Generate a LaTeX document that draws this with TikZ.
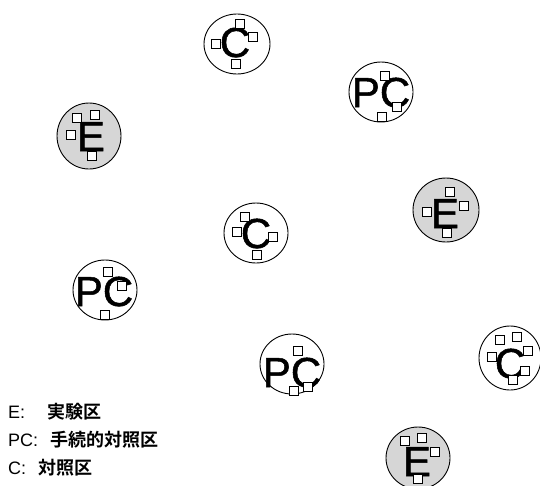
\documentclass[tikz,border=0pt]{standalone}
\usepackage{fontspec}
\setmainfont{Liberation Sans}
\newfontfamily\bigfont{Liberation Sans}[FakeBold=1.2]
\newfontfamily\jfont{Noto Sans CJK JP}[BoldFont={* Bold}]
\usetikzlibrary{shapes.geometric}
\tikzset{
  plot/.style={draw=black, line width=0.9pt, ellipse, inner sep=0pt, fill=white},
  eplot/.style={plot, fill=black!16},
  big/.style={font=\bigfont\fontsize{42}{42}\selectfont, inner sep=0pt, anchor=base},
  sq/.style={draw=black, line width=0.7pt, fill=white, minimum width=9.5pt, minimum height=8.5pt, inner sep=0pt},
  legend/.style={font=\fontsize{18}{18}\selectfont, inner sep=0pt, anchor=base west}
}
\begin{document}
\begin{tikzpicture}[x=1pt,y=-1pt]
\useasboundingbox (0,0) rectangle (540,485);
% 1 C
\node[plot, minimum width=66pt, minimum height=60pt] (c1) at (237,44) {};
\node[big] (l1) at (235,57) {C};
\node[sq] (s1a) at (240,24) {};
\node[sq] (s1b) at (253,37) {};
\node[sq] (s1c) at (216,44) {};
\node[sq] (s1d) at (236,64) {};
% 2 PC
\node[plot, minimum width=64pt, minimum height=60pt] (c2) at (381,92) {};
\node[big] (l2) at (381,107) {PC};
\node[sq] (s2a) at (385,76) {};
\node[sq] (s2b) at (397,107) {};
\node[sq] (s2c) at (382,117) {};
% 3 E
\node[eplot, minimum width=64pt, minimum height=66pt] (c3) at (89,136) {};
\node[big] (l3) at (91,151) {E};
\node[sq] (s3a) at (77,118) {};
\node[sq] (s3b) at (95,115) {};
\node[sq] (s3c) at (71,135) {};
\node[sq] (s3d) at (92,156) {};
% 4 E
\node[eplot, minimum width=66pt, minimum height=64pt] (c4) at (446,210) {};
\node[big] (l4) at (445,228) {E};
\node[sq] (s4a) at (450,192) {};
\node[sq] (s4b) at (464,206) {};
\node[sq] (s4c) at (427,212) {};
\node[sq] (s4d) at (447,233) {};
% 5 C
\node[plot, minimum width=64pt, minimum height=60pt] (c5) at (256,233) {};
\node[big] (l5) at (256,248) {C};
\node[sq] (s5a) at (245,217) {};
\node[sq] (s5b) at (237,232) {};
\node[sq] (s5c) at (273,237) {};
\node[sq] (s5d) at (257,255) {};
% 6 PC
\node[plot, minimum width=64pt, minimum height=60pt] (c6) at (105,290) {};
\node[big] (l6) at (104,306) {PC};
\node[sq] (s6a) at (108,272) {};
\node[sq] (s6b) at (122,286) {};
\node[sq] (s6c) at (105,315) {};
% 7 PC
\node[plot, minimum width=64pt, minimum height=60pt] (c7) at (292,364) {};
\node[big] (l7) at (292,387) {PC};
\node[sq] (s7a) at (298,351) {};
\node[sq] (s7b) at (308,387) {};
\node[sq] (s7c) at (294,391) {};
% 8 C
\node[plot, minimum width=62pt, minimum height=64pt] (c8) at (510,358) {};
\node[big] (l8) at (510,378) {C};
\node[sq] (s8a) at (500,340) {};
\node[sq] (s8b) at (517,337) {};
\node[sq] (s8c) at (528,351) {};
\node[sq] (s8d) at (492,357) {};
\node[sq] (s8e) at (525,371) {};
\node[sq] (s8f) at (513,380) {};
% 9 E
\node[eplot, minimum width=64pt, minimum height=62pt] (c9) at (418,458) {};
\node[big] (l9) at (417,476) {E};
\node[sq] (s9a) at (405,441) {};
\node[sq] (s9b) at (422,438) {};
\node[sq] (s9c) at (435,452) {};
\node[sq] (s9d) at (418,479) {};
% legend
\node[legend] (lgE) at (8,418) {E:\hspace{1.25em}{\jfont\bfseries 実験区}};
\node[legend] (lgPC) at (8,446) {PC:\hspace{0.7em}{\jfont\bfseries 手続的対照区}};
\node[legend] (lgC) at (8,474) {C:\hspace{0.7em}{\jfont\bfseries 対照区}};
\end{tikzpicture}
\end{document}
